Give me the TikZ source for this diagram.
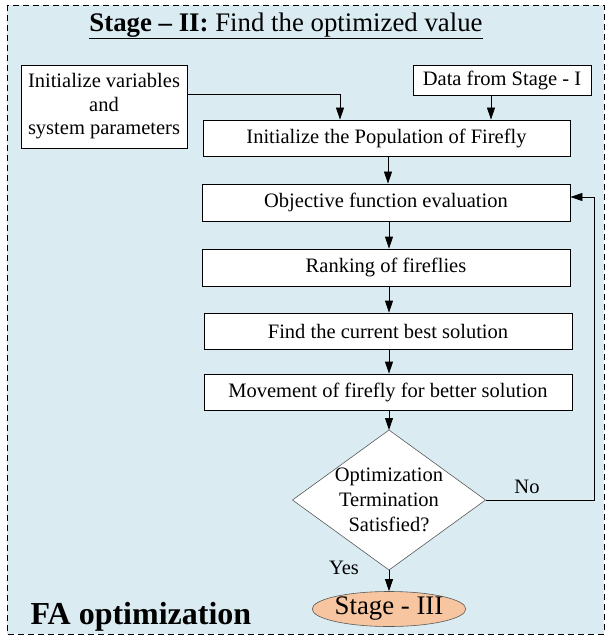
\documentclass[tikz,border=0pt]{standalone}
\usepackage{fontspec}
\setmainfont{Liberation Serif}
\usetikzlibrary{shapes.geometric,arrows.meta}
\definecolor{bgblue}{HTML}{DAECF2}
\definecolor{peach}{HTML}{F7C59F}
\tikzset{
  procbox/.style={draw=black, fill=white, line width=0.8pt, minimum height=36pt, inner sep=0pt, font=\fontsize{20.5}{22}\selectfont},
  arr/.style={-{Triangle[length=12pt,width=8pt]}, line width=0.8pt},
  lbl/.style={font=\fontsize{20.5}{22}\selectfont}
}
\begin{document}
\begin{tikzpicture}[x=1pt,y=-1pt]
\useasboundingbox (0,0) rectangle (607,639);
\draw[line width=0.8pt, fill=bgblue, dash pattern=on 6pt off 4pt] (7,5) rectangle (604,634);
\node[font=\fontsize{26.8}{28}\selectfont] (title) at (286,26) {\underline{\textbf{Stage – II:} Find the optimized value}};
\node[procbox, minimum width=166pt, minimum height=83pt, align=center, font=\fontsize{20.5}{23.5}\selectfont] (init) at (104,106.5) {Initialize variables\\and\\system parameters};
\node[procbox, minimum width=178pt, minimum height=30pt] (data) at (502,80.5) {Data from Stage - I};
\node[procbox, minimum width=367pt] (pop) at (386.5,138) {Initialize the Population of Firefly};
\node[procbox, minimum width=368pt, minimum height=37pt] (obj) at (386,202.5) {Objective function evaluation};
\node[procbox, minimum width=368pt, minimum height=37pt] (rank) at (386,267.5) {Ranking of fireflies};
\node[procbox, minimum width=368pt] (best) at (388,331) {Find the current best solution};
\node[procbox, minimum width=368pt] (move) at (388,392) {Movement of firefly for better solution};
\node[diamond, draw=gray!70!black, fill=white, line width=0.6pt, minimum width=193pt, minimum height=140pt, inner sep=0pt, outer sep=0pt] (dec) at (389,500) {};
\node[align=center, font=\fontsize{20.5}{25}\selectfont] (dectext) at (dec.center) {Optimization\\Termination\\Satisfied?};
\node[ellipse, draw=gray!70!black, fill=peach, line width=0.6pt, minimum width=143pt, minimum height=35pt, inner sep=0pt, font=\fontsize{26.8}{28}\selectfont] (s3) at (389,609) {Stage - III};
\node[font=\bfseries\fontsize{32}{34}\selectfont, anchor=base west] (fa) at (27,624) {FA optimization};
\node[lbl] (no) at (527,487) {No};
\node[lbl] (yes) at (344,568) {Yes};
\coordinate (c1) at (340,94);
\coordinate (c2) at (594,500);
\coordinate (c3) at (594,197);
\draw[arr] (init.east |- c1) -- (c1) -- (c1 |- pop.north);
\draw[arr] (data.south -| 491,0) -- (491,0 |- pop.north);
\draw[arr] (pop.south -| 388,0) -- (388,0 |- obj.north);
\draw[arr] (obj.south -| 389,0) -- (389,0 |- rank.north);
\draw[arr] (rank.south -| 389,0) -- (389,0 |- best.north);
\draw[arr] (best.south -| 389,0) -- (389,0 |- move.north);
\draw[arr] (move.south -| 389,0) -- (dec.north);
\draw[arr] (dec.south) -- (s3.north);
\draw[arr] (dec.east) -- (c2) -- (c3) -- (c3 -| obj.east);
\end{tikzpicture}
\end{document}
